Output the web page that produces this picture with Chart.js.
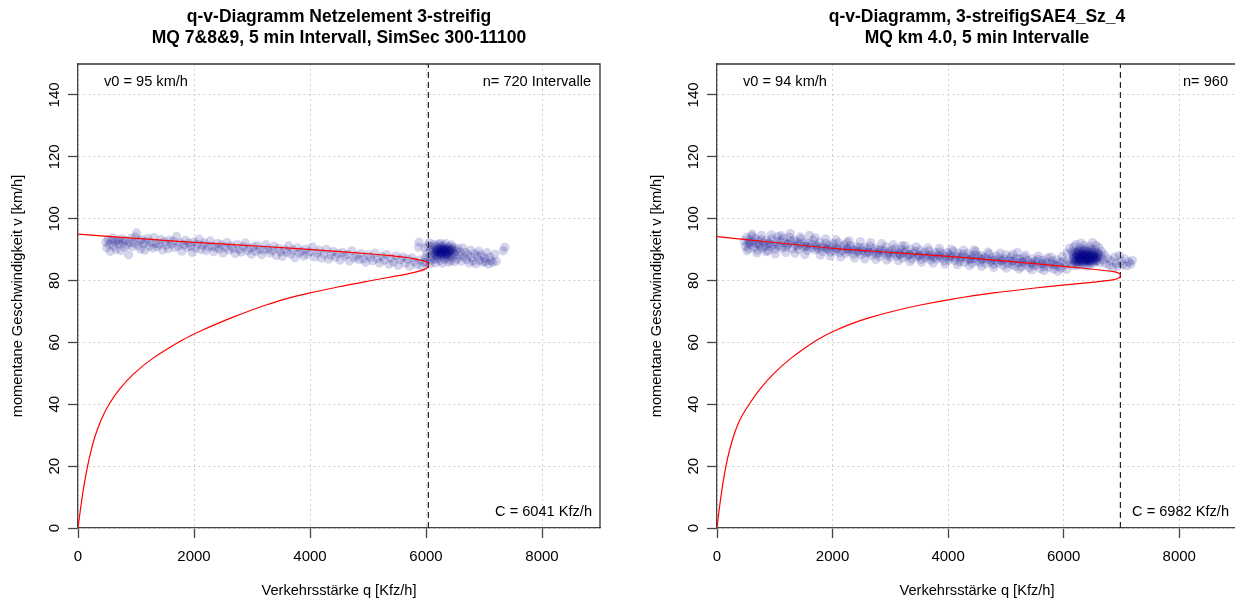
<!DOCTYPE html>
<html lang="de">
<head>
<meta charset="utf-8">
<title>q-v-Diagramme</title>
<script src="https://cdn.jsdelivr.net/npm/chart.js@4.4.1/dist/chart.umd.min.js"></script>
<style>
  html, body { margin: 0; padding: 0; background: #fff; overflow: hidden; }
  #rahmen { position: relative; width: 1235px; height: 605px; overflow: hidden; }
  #qvLinks { position: absolute; left: 0; top: 0; }
  #qvRechts { position: absolute; left: 617px; top: 0; }
</style>
</head>
<body>
<div id="rahmen">
  <canvas id="qvLinks" width="617" height="605"></canvas>
  <canvas id="qvRechts" width="640" height="605"></canvas>
</div>
<script>
/* Achsen */
const qTicks = [0, 2000, 4000, 6000, 8000];
const vTicks = [0, 20, 40, 60, 80, 100, 120, 140];
const Q_MAX = 9000;
const V_MAX = 150;

/* Netzelement 3-streifig (links) */
const titelLinks = ['q-v-Diagramm Netzelement 3-streifig', 'MQ 7&8&9, 5 min Intervall, SimSec 300-11100'];
const v0Links = 95;
const nLinks = 720;
const kapLinks = 6041;

// Modellkurve: unterer Ast vom Ursprung bis C, dann oberer Ast zurück bis v0
const kurveLinksQ = [0, 35, 72, 115, 165, 225, 300, 400, 535, 720, 970, 1300, 1725, 1925, 2149, 2393, 2653, 2929, 3229, 3569, 3999, 4499, 5059, 5494, 5764, 5924, 6008, 6035, 6041, 6035, 6015, 5975, 5900, 5776, 5600, 5431, 4700, 3966, 3200, 2400, 1600, 800, 0];
const kurveLinksV = [0, 5, 10, 15, 20, 25, 30, 35, 40, 45, 50, 55, 60, 62, 64, 66, 68, 70, 72, 74, 76, 78, 80, 81.5, 82.5, 83.3, 84, 84.6, 85.2, 85.6, 85.95, 86.25, 86.6, 87.1, 87.6, 88.0, 89.1, 90.1, 91.0, 91.9, 92.85, 93.9, 95];

// 5-min-Intervalle [q, v]
const messLinks = [
  [480,92.4],[495,90.6],[520,93.3],[540,91.7],[555,89.4],[575,92.9],[600,93.8],[615,91.2],[640,92.6],[655,90.1],
  [680,93.1],[700,91.8],[715,92.7],[735,89.7],[760,93.5],[780,92.2],[800,90.8],[825,93.0],[850,91.5],[870,88.3],
  [895,92.4],[920,93.7],[940,90.9],[965,92.1],[990,94.1],[1010,95.4],[1030,91.3],[1055,92.8],[1080,90.2],[1100,93.2],
  [1125,91.9],[1150,89.8],[1175,92.5],[1200,93.6],[1230,91.1],[1260,92.3],[1290,90.5],[1310,93.9],[1340,92.0],[1370,90.9],
  [1400,91.7],[1430,93.3],[1460,89.9],[1490,92.6],[1520,91.4],[1555,90.3],[1580,93.1],[1610,91.8],[1640,92.7],[1670,90.6],
  [1700,94.3],[1730,91.2],[1760,92.2],[1790,89.5],[1820,91.6],[1850,93.0],[1880,90.8],[1910,92.1],[1940,91.0],[1970,89.1],
  [2000,92.5],[2030,90.4],[2060,91.7],[2090,93.4],[2120,90.0],[2150,91.4],[2180,92.2],[2210,89.7],[2245,90.9],[2280,92.8],
  [2310,91.1],[2340,89.3],[2375,90.6],[2410,92.0],[2440,90.2],[2470,91.5],[2500,88.9],[2535,90.8],[2570,92.3],[2600,89.9],
  [2640,91.2],[2675,90.3],[2710,88.7],[2745,91.7],[2780,90.0],[2815,89.2],[2850,91.0],[2885,92.1],[2920,89.6],[2955,90.5],
  [2990,88.5],[3025,90.9],[3060,89.4],[3095,91.3],[3130,90.1],[3165,88.3],[3200,89.8],[3240,91.6],[3275,90.2],[3310,88.9],
  [3345,89.7],[3380,91.1],[3420,88.1],[3455,90.4],[3490,89.3],[3525,87.8],[3560,90.0],[3600,89.1],[3635,91.2],[3670,88.6],
  [3705,89.9],[3740,87.4],[3780,90.6],[3815,88.8],[3850,89.5],[3890,87.9],[3925,90.2],[3960,88.4],[4000,89.3],[4040,90.9],
  [4080,87.6],[4120,88.9],[4160,89.8],[4200,87.2],[4240,88.5],[4280,90.1],[4320,86.9],[4360,88.2],[4400,89.4],[4440,87.5],
  [4480,88.8],[4520,86.6],[4560,89.1],[4600,87.9],[4640,88.5],[4680,86.3],[4720,89.6],[4760,87.3],[4800,88.1],[4840,86.8],
  [4880,88.7],[4920,87.0],[4960,85.9],[5000,88.3],[5040,87.5],[5080,86.4],[5120,88.9],[5160,87.1],[5200,85.7],[5240,87.8],
  [5280,86.6],[5320,88.4],[5360,85.3],[5400,87.2],[5440,86.0],[5480,88.0],[5520,84.9],[5560,86.8],[5600,87.6],[5640,85.6],
  [5680,86.9],[5720,84.6],[5760,87.3],[5800,86.1],[5840,85.2],[5870,90.8],[5880,92.4],[5900,86.7],[5930,84.3],[5960,85.8],
  [5990,87.4],
  [6120,89.2],[6150,88.4],[6170,90.1],[6190,89.6],[6200,88.0],[6210,90.5],[6230,89.1],[6240,88.6],[6250,89.9],[6260,90.8],
  [6270,88.3],[6280,89.4],[6290,90.2],[6300,88.9],[6310,89.7],[6320,88.1],[6330,90.4],[6340,89.2],[6350,88.7],[6360,89.8],
  [6375,90.6],[6385,88.5],[6400,89.4],[6410,88.0],[6425,89.9],[6440,88.8],[6455,90.0],[6470,89.1],[6140,89.9],[6160,88.9],
  [6185,88.2],[6205,89.4],[6225,90.2],[6245,89.3],[6265,89.7],[6285,88.6],[6305,90.0],[6325,89.5],[6345,88.4],[6365,89.0],
  [6390,89.8],[6415,89.3],[6435,90.3],[6260,89.0],[6300,89.3],[6230,88.6],[6340,90.1],[6280,90.6],[6180,89.3],[6360,88.2],
  [5980,90.6],[6010,88.7],[6030,91.3],[6050,87.4],[6060,92.2],[6080,89.8],[6090,86.6],[6100,90.9],[6110,87.9],[6130,91.6],
  [6150,86.9],[6175,91.1],[6195,87.2],[6215,91.8],[6240,86.4],[6255,92.0],[6275,87.5],[6300,91.4],[6320,86.8],[6345,91.9],
  [6370,87.3],[6395,91.0],[6420,86.5],[6440,91.5],[6460,87.6],[6480,90.7],[6500,88.4],[6520,89.6],[6535,86.9],[6550,90.3],
  [6570,88.0],[6590,89.2],[6610,86.3],[6630,90.6],[6650,87.7],[6000,85.9],[6070,85.4],[6160,85.7],[6280,85.6],[6390,85.9],
  [6490,86.1],
  [6680,89.1],[6700,86.8],[6720,88.3],[6745,85.6],[6770,89.8],[6790,87.4],[6815,86.2],[6840,88.7],[6860,85.4],[6885,87.9],
  [6910,89.5],[6930,86.5],[6955,88.2],[6980,85.9],[7005,87.3],[7025,86.1],[7050,89.0],[7075,85.3],[7100,87.6],[7120,86.4],
  [7150,85.8],[7185,88.5],[7210,86.2],[7330,89.6],[7360,90.8]
];

/* SAE4_Sz_4 (rechts) */
const titelRechts = ['q-v-Diagramm, 3-streifigSAE4_Sz_4', 'MQ km 4.0, 5 min Intervalle'];
const v0Rechts = 94;
const nRechts = 960;
const kapRechts = 6982;

const kurveRechtsQ = [0, 32, 67, 107, 155, 215, 292, 397, 557, 747, 987, 1287, 1662, 1846, 2066, 2322, 2642, 3032, 3502, 4072, 4792, 5467, 5987, 6527, 6871, 6961, 6979, 6982, 6975, 6950, 6890, 6780, 6632, 6300, 5997, 5000, 4006, 3000, 2015, 1000, 0];
const kurveRechtsV = [0, 5, 10, 15, 20, 25, 30, 35, 40, 45, 50, 55, 60, 62, 64, 66, 68, 70, 72, 74, 76, 77.5, 78.5, 79.5, 80.3, 80.9, 81.4, 81.7, 82.1, 82.45, 82.8, 83.1, 83.4, 84.05, 84.6, 86.3, 87.8, 89.1, 90.4, 92.3, 94.2];

const messRechts = [
  [470,92.8],[490,91.0],[510,93.9],[530,92.1],[545,90.3],[565,93.2],[585,91.6],[600,94.4],[620,92.5],[640,90.7],
  [660,93.6],[680,91.9],[700,89.8],[720,92.8],[745,91.2],[765,93.3],[790,90.4],[810,92.2],[835,91.0],[860,93.0],
  [880,89.6],[905,92.0],[930,90.9],[950,93.5],[975,91.5],[1000,90.1],[1025,92.6],[1050,94.2],[1075,91.1],[1100,92.9],
  [1125,90.5],[1150,93.7],[1175,92.2],[1200,90.8],[1230,91.9],[1255,94.0],[1280,92.7],[1305,90.3],[1330,93.1],[1355,91.4],
  [1380,92.5],[1410,90.0],[1435,91.8],[1460,93.4],[1490,90.9],[1515,92.3],[1540,91.1],[1565,89.7],[1590,92.0],[1620,90.6],
  [1645,91.7],[1670,93.0],[1700,89.9],[1725,91.3],[1750,90.2],[1780,92.4],[1805,91.0],[1830,89.4],[1860,90.7],[1885,92.1],
  [1910,90.0],[1940,91.4],[1965,89.2],[1990,90.8],[2015,91.9],[2040,89.6],[2070,90.5],[2095,92.2],[2120,89.0],[2150,90.9],
  [2175,89.8],[2200,91.5],[2230,88.7],[2255,90.3],[2280,89.4],[2310,91.2],[2335,90.1],[2360,88.5],[2390,89.9],[2415,91.0],
  [2440,89.2],[2470,90.6],[2495,88.3],[2520,89.7],[2550,90.8],[2575,88.9],[2600,90.2],[2630,89.1],[2655,91.1],[2680,88.1],
  [2710,89.5],[2735,90.4],[2760,88.6],[2790,89.8],[2815,87.7],[2840,90.0],[2870,88.9],[2895,89.6],[2920,91.0],[2950,88.2],
  [2975,89.3],[3000,87.5],[3030,89.9],[3055,88.7],[3080,90.3],[3110,87.9],[3135,89.1],[3160,88.3],[3190,90.1],[3215,87.2],
  [3240,88.9],[3270,89.7],[3295,87.8],[3320,88.5],[3350,90.2],[3375,87.0],[3400,88.7],[3430,89.4],[3455,87.6],[3480,88.2],
  [3510,89.9],[3535,86.8],[3560,88.4],[3590,89.2],[3615,87.3],[3640,88.0],[3670,89.6],[3695,86.6],[3720,88.3],[3750,87.5],
  [3775,89.0],[3800,86.9],[3830,88.1],[3855,89.3],[3880,87.2],[3910,88.6],[3935,86.3],[3960,87.9],[3990,89.1],[4015,86.7],
  [4040,88.2],[4070,87.4],[4095,89.4],[4120,86.5],[4150,87.8],[4175,88.9],[4200,86.1],[4230,87.6],[4255,88.5],[4280,85.9],
  [4310,87.3],[4335,88.8],[4360,86.7],[4390,87.9],[4415,85.6],[4440,87.1],[4470,88.4],[4495,86.3],[4520,87.7],[4550,85.8],
  [4575,88.1],[4600,86.9],[4630,87.5],[4655,85.4],[4680,86.8],[4710,88.6],[4735,86.0],[4760,87.3],[4790,85.2],[4815,86.6],
  [4840,88.0],[4870,85.7],[4895,87.2],[4920,86.4],[4950,84.9],[4975,86.9],[5000,88.3],[5030,85.5],[5055,86.7],[5080,87.6],
  [5110,85.1],[5135,86.3],[5160,84.6],[5190,87.1],[5215,85.8],[5240,86.9],[5270,84.4],[5295,86.0],[5320,87.4],[5350,85.2],
  [5375,86.5],[5400,84.1],[5430,85.7],[5455,87.0],[5480,84.8],[5510,86.2],[5535,85.0],[5560,86.8],[5590,83.9],[5615,85.5],
  [5640,86.6],[5670,84.5],[5695,85.9],[5720,87.3],[5750,84.2],[5775,85.4],[5800,86.4],[5830,83.7],[5855,85.1],[5880,86.7],
  [5910,84.6],[5935,85.8],[5960,84.0],[5990,86.2],[6020,85.0],[6050,83.6],
  [1600,94.6],[2250,92.4],[3200,91.2],[4450,89.9],[5200,89.1],
  [520,89.6],[610,95.0],[690,88.9],[770,94.6],[850,89.3],[940,94.8],[1010,88.6],[1110,94.5],[1190,89.1],[1270,95.2],
  [1350,88.8],[1440,94.1],[1520,88.4],[1700,93.8],[1790,88.2],[1880,93.5],[1960,87.9],[2060,93.2],[2140,87.6],[2290,92.8],
  [2380,87.3],[2480,92.6],[2560,87.0],[2660,92.3],[2750,86.8],[2850,91.9],[2940,86.6],[3050,91.6],[3140,86.4],[3250,91.3],
  [3340,86.1],[3450,90.9],[3540,85.9],[3650,90.6],[3740,85.6],[3850,90.4],[3950,85.3],[4060,90.1],[4160,85.1],[4270,89.8],
  [4370,84.8],[4480,89.4],[4580,84.5],[4690,89.2],[4790,84.2],[4900,88.9],[5010,84.0],[5120,88.5],[5230,83.7],[5340,88.2],
  [5450,83.4],[5560,87.9],[5660,83.2],[5780,87.6],[5900,83.0],[5980,87.8],
  [560,92.3],[730,91.7],[890,92.0],[1060,91.4],[1220,91.6],[1390,91.2],[1550,90.9],[1720,90.8],[1900,90.4],[2080,90.1],
  [2270,90.0],[2450,89.6],[2620,89.3],[2800,89.0],[2980,88.8],[3170,88.6],[3330,88.4],[3500,88.1],[3680,87.9],[3860,87.8],
  [4030,87.6],[4210,87.3],[4390,87.0],[4570,86.9],[4750,86.6],[4930,86.3],[5100,86.2],[5280,85.9],[5460,85.6],[5640,85.4],
  [5820,85.2],
  [6200,87.5],[6215,86.6],[6230,88.2],[6245,87.0],[6260,86.3],[6270,88.6],[6285,87.7],[6300,86.8],[6310,88.0],[6325,87.3],
  [6340,86.1],[6350,88.4],[6365,87.6],[6380,86.5],[6395,87.9],[6410,88.7],[6420,86.9],[6435,87.4],[6450,86.2],[6465,88.1],
  [6480,87.1],[6495,86.6],[6510,87.8],[6525,88.5],[6540,86.9],[6220,87.9],[6255,87.4],[6290,86.4],[6320,88.5],[6355,87.0],
  [6385,88.3],[6405,86.7],[6440,88.0],[6470,87.5],[6500,88.2],[6530,87.2],[6240,88.9],[6275,86.9],[6330,87.9],[6370,86.8],
  [6415,87.8],[6455,87.2],[6485,88.6],[6515,86.4],[6235,86.0],[6305,87.1],[6345,87.5],[6390,87.3],[6430,86.4],[6460,87.9],
  [6300,87.9],[6360,88.1],[6400,87.0],[6280,87.2],[6440,86.8],
  [6160,88.3],[6175,87.0],[6190,89.2],[6205,86.2],[6215,88.8],[6250,89.5],[6265,87.8],[6290,89.3],[6315,86.0],[6330,89.8],
  [6350,86.4],[6375,89.4],[6400,88.5],[6425,86.2],[6445,89.2],[6470,86.0],[6490,89.5],[6505,87.4],[6520,89.0],[6545,88.1],
  [6560,86.2],[6575,89.1],[6590,87.3],[6610,88.6],[6180,88.0],[6310,88.9],[6420,87.6],[6550,87.7],[6270,86.1],[6395,86.3],
  [6060,88.9],[6080,86.2],[6100,90.4],[6120,85.4],[6140,89.3],[6160,84.8],[6175,90.9],[6190,85.9],[6210,91.6],[6230,84.9],
  [6250,89.7],[6265,85.2],[6285,90.5],[6300,92.1],[6320,85.0],[6335,89.6],[6355,91.3],[6375,85.5],[6390,90.2],[6410,84.6],
  [6425,89.5],[6445,91.0],[6460,85.3],[6480,90.1],[6500,92.3],[6520,85.7],[6540,89.9],[6560,91.4],[6575,86.4],[6590,88.6],
  [6610,90.7],[6625,85.8],[6640,87.9],[6660,89.4],[6680,86.7],[6700,88.3],[6720,85.5],[6150,86.6],[6560,87.1],[6600,87.6],
  [6760,87.2],[6790,85.0],[6820,86.4],[6850,84.3],[6880,87.6],[6910,85.6],[6940,84.6],[6960,88.1],[6990,86.3],[7020,85.1],
  [7060,87.0],[7090,84.7],[7130,86.0],[7160,85.3],[7190,86.5]
];

const SCHRIFT = '"Liberation Sans", Arial, Helvetica, sans-serif';
const PUNKT_FARBE = 'rgba(0, 0, 139, 0.17)';

// Titel, Beschriftungen im Plot und oberer/rechter Rahmen
const beschriftungPlugin = {
  id: 'beschriftung',
  afterDraw(chart, args, opts) {
    const { ctx, chartArea: a } = chart;
    ctx.save();
    ctx.strokeStyle = '#333';
    ctx.lineWidth = 1.3;
    ctx.beginPath();
    ctx.moveTo(a.left, a.top);
    ctx.lineTo(a.right, a.top);
    ctx.lineTo(a.right, a.bottom);
    ctx.stroke();

    const mitte = (a.left + a.right) / 2;
    ctx.fillStyle = '#000';
    ctx.textBaseline = 'middle';
    ctx.textAlign = 'center';
    ctx.font = 'bold 17.5px ' + SCHRIFT;
    ctx.fillText(opts.titel[0], mitte, 17);
    ctx.fillText(opts.titel[1], mitte, 38);

    ctx.font = '14.6px ' + SCHRIFT;
    ctx.textAlign = 'left';
    ctx.fillText('v0 = ' + opts.v0 + ' km/h', a.left + 26, 82);
    ctx.textAlign = 'right';
    ctx.fillText(opts.nText, a.right - 9, 82);
    ctx.fillText('C = ' + opts.kap + ' Kfz/h', a.right - 8, 512);
    ctx.restore();
  }
};

function erzeugeDiagramm(id, p) {
  const ctx = document.getElementById(id).getContext('2d');

  return new Chart(ctx, {
    type: 'scatter',
    data: {
      datasets: [
        {
          data: p.mess.map(([q, v]) => ({ x: q, y: v })),
          pointRadius: 4.6,
          pointBackgroundColor: PUNKT_FARBE,
          pointBorderWidth: 0,
          order: 3
        },
        {
          data: p.kurveQ.map((q, i) => ({ x: q, y: p.kurveV[i] })),
          showLine: true,
          borderColor: '#ff0000',
          borderWidth: 1.2,
          pointRadius: 0,
          tension: 0.3,
          order: 1
        },
        {
          data: [{ x: p.kap, y: 0 }, { x: p.kap, y: V_MAX }],
          showLine: true,
          borderColor: '#222',
          borderWidth: 1.2,
          borderDash: [6, 4],
          pointRadius: 0,
          order: 2
        }
      ]
    },
    options: {
      responsive: false,
      animation: false,
      events: [],
      layout: { padding: { top: 64, right: p.rechts, bottom: 0, left: 0 } },
      plugins: {
        legend: { display: false },
        tooltip: { enabled: false },
        beschriftung: { titel: p.titel, v0: p.v0, nText: p.nText, kap: p.kap }
      },
      scales: {
        x: {
          type: 'linear',
          min: 0,
          max: Q_MAX,
          afterBuildTicks: s => { s.ticks = qTicks.map(v => ({ value: v })); },
          afterFit: s => { s.height = 77; },
          grid: { color: '#cfcfcf', lineWidth: 1, tickLength: 10, tickColor: '#444', tickWidth: 1.3 },
          border: { color: '#444', width: 1.3, dash: [2, 3] },
          ticks: {
            color: '#000',
            font: { family: SCHRIFT, size: 15 },
            padding: 9.5,
            maxRotation: 0,
            autoSkip: false,
            callback: v => String(v)
          },
          title: {
            display: true,
            text: 'Verkehrsstärke q [Kfz/h]',
            color: '#000',
            font: { family: SCHRIFT, size: 14.6 },
            padding: { top: 0, bottom: 5 }
          }
        },
        y: {
          type: 'linear',
          min: 0,
          max: V_MAX,
          afterBuildTicks: s => { s.ticks = vTicks.map(v => ({ value: v })); },
          afterFit: s => { s.width = p.yBreite; },
          grid: { color: '#cfcfcf', lineWidth: 1, tickLength: 10, tickColor: '#444', tickWidth: 1.3 },
          border: { color: '#444', width: 1.3, dash: [2, 3] },
          ticks: {
            color: '#000',
            font: { family: SCHRIFT, size: 15 },
            padding: 1,
            minRotation: 90,
            maxRotation: 90,
            crossAlign: 'center',
            autoSkip: false,
            callback: v => String(v)
          },
          title: {
            display: true,
            text: 'momentane Geschwindigkeit v [km/h]',
            color: '#000',
            font: { family: SCHRIFT, size: 14.6 },
            padding: { top: p.yTitelAbstand, bottom: 0 }
          }
        }
      }
    },
    plugins: [beschriftungPlugin]
  });
}

erzeugeDiagramm('qvLinks', {
  titel: titelLinks, v0: v0Links, nText: 'n= ' + nLinks + ' Intervalle', kap: kapLinks,
  kurveQ: kurveLinksQ, kurveV: kurveLinksV, mess: messLinks,
  yBreite: 78, rechts: 17, yTitelAbstand: 9.5
});

erzeugeDiagramm('qvRechts', {
  titel: titelRechts, v0: v0Rechts, nText: 'n= ' + nRechts, kap: kapRechts,
  kurveQ: kurveRechtsQ, kurveV: kurveRechtsV, mess: messRechts,
  yBreite: 100, rechts: 20, yTitelAbstand: 31.5
});
</script>
</body>
</html>
